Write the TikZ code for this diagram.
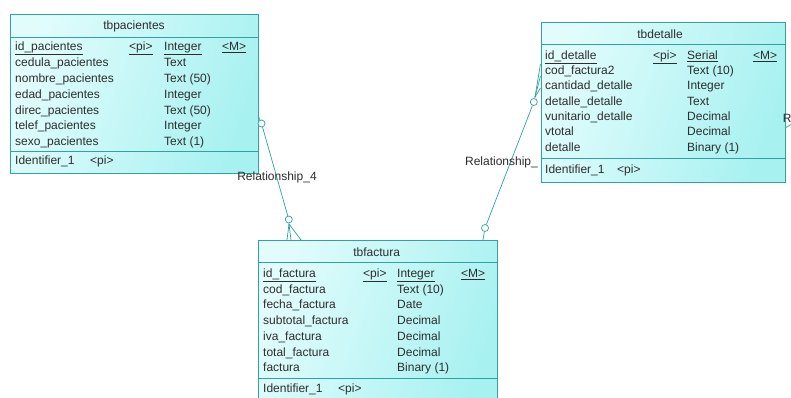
\documentclass[tikz,border=0pt]{standalone}
\usepackage{fontspec}
\setmainfont{Liberation Sans}
\usepackage{xcolor}
\usepackage{tikz}
\usetikzlibrary{positioning}
\definecolor{er-line}{RGB}{48,162,162}
\definecolor{er-light}{RGB}{226,252,252}
\definecolor{er-cyan}{RGB}{168,241,241}
\definecolor{er-text}{RGB}{45,45,45}
\newcommand{\erfont}{\fontsize{12}{14}\selectfont}
\tikzset{
  tbl/.style={draw=er-line, line width=0.9pt, left color=er-light, right color=er-cyan,
    shading angle=70, anchor=north west, inner sep=0pt},
  sep/.style={draw=er-line, line width=0.9pt},
  cell/.style={anchor=base west, inner sep=0pt, text=er-text, font=\erfont},
  ttl/.style={anchor=base, inner sep=0pt, text=er-text, font=\erfont},
  relline/.style={draw=er-line, line width=0.7pt},
  relo/.style={circle, draw=er-line, fill=white, line width=0.7pt, minimum size=7pt, inner sep=0pt},
}

\begin{document}
\begin{tikzpicture}[x=1pt, y=-1pt]
    \clip (0,0) rectangle (791,397);
    \fill[white] (0,0) rectangle (791,397);

    % tbpacientes
    \node[tbl, minimum width=248pt, minimum height=159pt] (pac) at (10,14) {};
    \draw[sep] (10,37) -- (258,37);
    \draw[sep] (10,151.5) -- (258,151.5);
    \node[ttl] (pac-title) at (134,29.5) {tbpacientes};
    \node[cell] (pac-n1) at (15,50.8) {\underline{id\_pacientes}};
    \node[cell] (pac-p1) at (129,50.8) {\underline{<pi>}};
    \node[cell] (pac-t1) at (164,50.8) {\underline{Integer}};
    \node[cell] (pac-m1) at (222,50.8) {\underline{<M>}};
    \node[cell] (pac-n2) at (15,66.6) {cedula\_pacientes};
    \node[cell] (pac-t2) at (164,66.6) {Text};
    \node[cell] (pac-n3) at (15,82.4) {nombre\_pacientes};
    \node[cell] (pac-t3) at (164,82.4) {Text (50)};
    \node[cell] (pac-n4) at (15,98.2) {edad\_pacientes};
    \node[cell] (pac-t4) at (164,98.2) {Integer};
    \node[cell] (pac-n5) at (15,114) {direc\_pacientes};
    \node[cell] (pac-t5) at (164,114) {Text (50)};
    \node[cell] (pac-n6) at (15,129.8) {telef\_pacientes};
    \node[cell] (pac-t6) at (164,129.8) {Integer};
    \node[cell] (pac-n7) at (15,145.6) {sexo\_pacientes};
    \node[cell] (pac-t7) at (164,145.6) {Text (1)};
    \node[cell] (pac-id) at (15,164.8) {Identifier\_1};
    \node[cell] (pac-idp) at (90,164.8) {<pi>};

    % tbdetalle
    \node[tbl, minimum width=244pt, minimum height=160pt] (det) at (540.5,21.7) {};
    \draw[sep] (540.5,44) -- (784.5,44);
    \draw[sep] (540.5,158.3) -- (784.5,158.3);
    \node[ttl] (det-title) at (660,38) {tbdetalle};
    \node[cell] (det-n1) at (545,59.3) {\underline{id\_detalle}};
    \node[cell] (det-p1) at (653,59.3) {\underline{<pi>}};
    \node[cell] (det-t1) at (687,59.3) {\underline{Serial}};
    \node[cell] (det-m1) at (753,59.3) {\underline{<M>}};
    \node[cell] (det-n2) at (545,74.6) {cod\_factura2};
    \node[cell] (det-t2) at (687,74.6) {Text (10)};
    \node[cell] (det-n3) at (545,89.9) {cantidad\_detalle};
    \node[cell] (det-t3) at (687,89.9) {Integer};
    \node[cell] (det-n4) at (545,105.2) {detalle\_detalle};
    \node[cell] (det-t4) at (687,105.2) {Text};
    \node[cell] (det-n5) at (545,120.5) {vunitario\_detalle};
    \node[cell] (det-t5) at (687,120.5) {Decimal};
    \node[cell] (det-n6) at (545,135.8) {vtotal};
    \node[cell] (det-t6) at (687,135.8) {Decimal};
    \node[cell] (det-n7) at (545,151.1) {detalle};
    \node[cell] (det-t7) at (687,151.1) {Binary (1)};
    \node[cell] (det-id) at (545,173.8) {Identifier\_1};
    \node[cell] (det-idp) at (617,173.8) {<pi>};

    % tbfactura
    \node[tbl, minimum width=238.4pt, minimum height=175pt] (fac) at (258.3,240) {};
    \draw[sep] (258.3,262) -- (496.7,262);
    \draw[sep] (258.3,378.3) -- (496.7,378.3);
    \node[ttl] (fac-title) at (376.7,256) {tbfactura};
    \node[cell] (fac-n1) at (263,277.6) {\underline{id\_factura}};
    \node[cell] (fac-p1) at (363,277.6) {\underline{<pi>}};
    \node[cell] (fac-t1) at (397,277.6) {\underline{Integer}};
    \node[cell] (fac-m1) at (461,277.6) {\underline{<M>}};
    \node[cell] (fac-n2) at (263,293.3) {cod\_factura};
    \node[cell] (fac-t2) at (397,293.3) {Text (10)};
    \node[cell] (fac-n3) at (263,308.9) {fecha\_factura};
    \node[cell] (fac-t3) at (397,308.9) {Date};
    \node[cell] (fac-n4) at (263,324.6) {subtotal\_factura};
    \node[cell] (fac-t4) at (397,324.6) {Decimal};
    \node[cell] (fac-n5) at (263,340.3) {iva\_factura};
    \node[cell] (fac-t5) at (397,340.3) {Decimal};
    \node[cell] (fac-n6) at (263,356) {total\_factura};
    \node[cell] (fac-t6) at (397,356) {Decimal};
    \node[cell] (fac-n7) at (263,371.6) {factura};
    \node[cell] (fac-t7) at (397,371.6) {Binary (1)};
    \node[cell] (fac-id) at (263,392.6) {Identifier\_1};
    \node[cell] (fac-idp) at (338,392.6) {<pi>};

    % Relationship_4
    \coordinate (r4-a) at (258.5,116.5);
    \coordinate (r4-f) at (289,224);
    \coordinate (r4-e1) at (287,240);
    \coordinate (r4-e2) at (291,240);
    \coordinate (r4-e3) at (301,240);
    \node[relo] (r4-o1) at (261.5,123.5) {};
    \node[relo] (r4-o2) at (288.8,219.5) {};
    \draw[relline] (r4-a) -- (r4-o1) -- (r4-o2) -- (r4-f);
    \draw[relline] (r4-f) -- (r4-e1);
    \draw[relline] (r4-f) -- (r4-e2);
    \draw[relline] (r4-f) -- (r4-e3);
    \node[cell, anchor=center] (r4-label) at (277,177) {Relationship\_4};

    % tbfactura - tbdetalle
    \coordinate (r5-a) at (483,240);
    \coordinate (r5-f) at (535,97);
    \coordinate (r5-e1) at (540.5,64);
    \coordinate (r5-e2) at (540.5,76);
    \coordinate (r5-e3) at (540.5,88);
    \node[relo] (r5-o1) at (485,228) {};
    \node[relo] (r5-o2) at (533.8,102) {};
    \draw[relline] (r5-a) -- (r5-o1) -- (r5-o2) -- (r5-f);
    \draw[relline] (r5-f) -- (r5-e1);
    \draw[relline] (r5-f) -- (r5-e2);
    \draw[relline] (r5-f) -- (r5-e3);
    \node[cell, anchor=east] (r5-label) at (538,162) {Relationship\_};

    % cut-off relationship on the right
    \coordinate (r6-a) at (785,128);
    \coordinate (r6-b) at (791,124.5);
    \draw[relline] (r6-a) -- (r6-b);
    \node[cell, anchor=west] (r6-label) at (782.6,118) {R};
\end{tikzpicture}
\end{document}
